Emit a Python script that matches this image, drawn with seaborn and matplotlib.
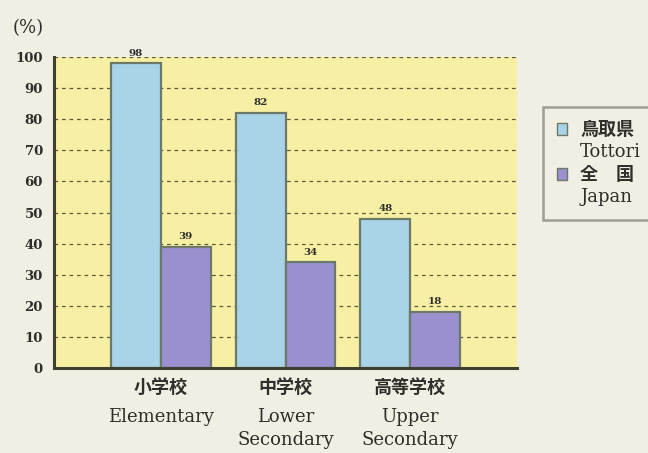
import matplotlib
matplotlib.use("Agg")
import matplotlib.pyplot as plt
import seaborn as sns
import pandas as pd
from matplotlib.patches import Patch

# data
levels = ["小学校\nElementary", "中学校\nLower\nSecondary", "高等学校\nUpper\nSecondary"]
series = ["鳥取県\nTottori", "全　国\nJapan"]
tottori = [98, 82, 48]
japan = [39, 34, 18]
yticks = list(range(0, 101, 10))

df = pd.DataFrame({
    "level": levels * 2,
    "region": [series[0]] * 3 + [series[1]] * 3,
    "value": tottori + japan,
})

sns.set_theme(style="white")
plt.rcParams["font.family"] = ["DejaVu Serif", "Noto Sans CJK JP", "DejaVu Sans"]

bg = "#f1eee3"
ink = "#2e2e2a"
serif_en = ["DejaVu Serif"]
fig = plt.figure(figsize=(6.48, 4.53), dpi=100, facecolor=bg)
ax = fig.add_axes([0.0833, 0.1876, 0.7147, 0.6864])
ax.set_facecolor("#f7f0a4")

palette = {series[0]: "#a9d3e6", series[1]: "#9b90cf"}
sns.barplot(data=df, x="level", y="value", hue="region", palette=palette,
            width=0.8, edgecolor="#6c7868", linewidth=1.6, saturation=1,
            ax=ax, legend=False)

for cont in ax.containers:
    ax.bar_label(cont, fmt="%d", padding=4, fontsize=7.5, fontweight="bold",
                 color=ink, family=serif_en)

ax.set_ylim(0, 100)
ax.set_xlim(-0.856, 2.856)
ax.set_yticks(yticks)
ax.set_yticklabels([str(t) for t in yticks], fontsize=9.5, fontweight="bold",
                   color=ink, family=serif_en)
ax.yaxis.grid(True, linestyle=(0, (3, 3)), color="#5c5a3a", linewidth=0.9)
ax.set_axisbelow(True)
ax.tick_params(axis="y", length=0, pad=8)
ax.tick_params(axis="x", length=0)

ax.set_xticks(range(3))
ax.set_xticklabels([])
for i, lab in enumerate(levels):
    jp, en = lab.split("\n", 1)
    ax.text(i, -3.2, jp, ha="center", va="top", fontsize=13, fontweight="bold",
            family=["Noto Sans CJK JP"], color=ink, clip_on=False)
    ax.text(i, -12.8, en, ha="center", va="top", fontsize=13, color=ink,
            family=serif_en, linespacing=1.4, clip_on=False)

ax.set_xlabel("")
ax.set_ylabel("")
for s in ["top", "right"]:
    ax.spines[s].set_visible(False)
for s in ["left", "bottom"]:
    ax.spines[s].set_color("#3e4030")
    ax.spines[s].set_linewidth(2.2)

fig.text(0.02, 0.938, "(%)", fontsize=13, color=ink, va="center", family=serif_en)

# legend: one patch per region, English name as a separate row under it
jp_names = [s.split("\n")[0] for s in series]
en_names = [s.split("\n")[1] for s in series]
blank = Patch(facecolor="none", edgecolor="none")
handles = [Patch(facecolor=palette[series[0]], edgecolor="#6c7868"), blank,
           Patch(facecolor=palette[series[1]], edgecolor="#6c7868"), blank]
labels = [jp_names[0], en_names[0], jp_names[1], en_names[1]]
leg = fig.legend(handles, labels, loc="upper left", bbox_to_anchor=(0.838, 0.764),
                 borderaxespad=0, frameon=True, fontsize=13, handlelength=0.6,
                 handleheight=0.6, labelspacing=0.22, borderpad=0.75,
                 handletextpad=0.7)
for k, t in enumerate(leg.get_texts()):
    t.set_color(ink)
    if k % 2 == 0:
        t.set_family(["Noto Sans CJK JP"])
        t.set_fontweight("bold")
    else:
        t.set_family(serif_en)
leg.get_frame().set_facecolor(bg)
leg.get_frame().set_edgecolor("#8a8a80")
leg.get_frame().set_linewidth(1.8)
leg.get_frame().set_boxstyle("square", pad=0)

fig.savefig("out.png", dpi=100, facecolor=bg)
